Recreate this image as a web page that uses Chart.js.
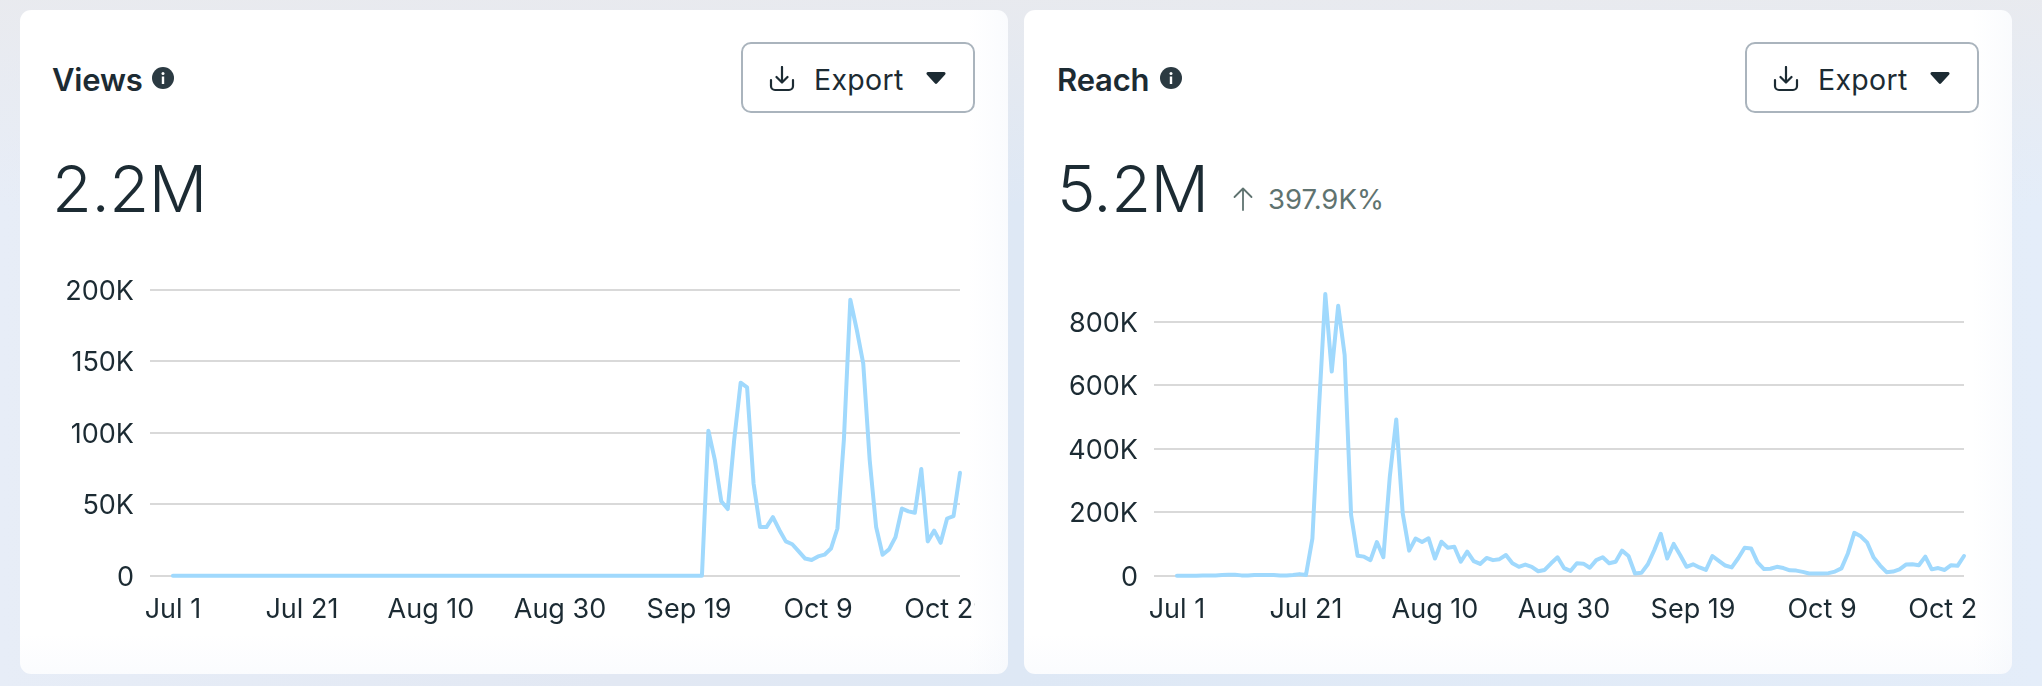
<!DOCTYPE html>
<html>
<head>
<meta charset="utf-8">
<title>Views and Reach</title>
<script src="https://cdn.jsdelivr.net/npm/chart.js@4"></script>
<style>
  html, body { margin: 0; padding: 0; width: 2042px; height: 686px; overflow: hidden; }
  body {
    position: relative;
    font-family: Inter, "Noto Sans", sans-serif;
    color: #1c2b33;
    background:
      linear-gradient(to bottom, rgba(233,234,238,.9), rgba(233,234,238,0) 30%),
      linear-gradient(to right, #e7edf7 0%, #e2e8f3 30%, #dee8f5 50%, #e4edf9 100%);
  }
  .card {
    position: absolute; top: 10px; width: 988px; height: 664px;
    border-radius: 11px;
    background:
      linear-gradient(to left, rgba(240,244,251,.35), rgba(255,255,255,0) 40px),
      linear-gradient(to top, rgba(240,244,251,.3), rgba(255,255,255,0) 40px),
      #fff;
  }
  #card1 { left: 20px; }
  #card2 { left: 1024px; }
  .abs { position: absolute; white-space: nowrap; }
  .title { font-size: 31px; font-weight: 600; line-height: 36px; top: 52px; letter-spacing: -0.2px; }
  .big { font-size: 65px; font-weight: 300; line-height: 78px; top: 140px; letter-spacing: -0.5px; }
  .delta { font-size: 27.5px; font-weight: 400; line-height: 32px; top: 173px; color: #5f7370; }
  .info { top: 57px; width: 22px; height: 22px; }
  .btn {
    position: absolute; top: 32px; width: 230px; height: 67px;
    border: 2px solid #aab4bd; border-radius: 10px; background: #fff;
  }
  .btn span { position: absolute; left: 71px; top: 18px; font-size: 28.5px; line-height: 36px; letter-spacing: .3px; }
  .btn svg { position: absolute; }
  .plot { position: absolute; top: 260px; height: 380px; }
  canvas { display: block; }
</style>
</head>
<body>
<div class="card" id="card1">
  <div class="abs title" style="left:32px">Views</div>
  <svg class="abs info" style="left:132px" viewBox="0 0 22 22"><circle cx="11" cy="11" r="11" fill="#2b3a42"/><rect x="9.8" y="9.5" width="2.4" height="7.5" fill="#fff"/><circle cx="11" cy="6.5" r="1.5" fill="#fff"/></svg>
  <div class="btn" style="left:721px">
    <svg style="left:26px;top:22px" width="26" height="26" viewBox="0 0 26 26" fill="none" stroke="#1c2b33" stroke-width="2.2" stroke-linecap="round" stroke-linejoin="round"><path d="M13 1v15M7.5 11l5.5 5.5 5.5-5.5M2 14v6a4 4 0 0 0 4 4h14a4 4 0 0 0 4-4v-6"/></svg>
    <svg style="left:183px;top:28px" width="20" height="12" viewBox="0 0 20 12"><path d="M2 0h16a1.5 1.5 0 0 1 1.2 2.4l-8 8.8a1.6 1.6 0 0 1-2.4 0l-8-8.8A1.5 1.5 0 0 1 2 0z" fill="#1c2b33"/></svg>
    <span>Export</span>
  </div>
  <div class="abs big" style="left:32px">2.2M</div>
  <div class="plot" style="left:20px;width:935px"><canvas id="viewsChart"></canvas></div>
</div>
<div class="card" id="card2">
  <div class="abs title" style="left:33px">Reach</div>
  <svg class="abs info" style="left:136px" viewBox="0 0 22 22"><circle cx="11" cy="11" r="11" fill="#2b3a42"/><rect x="9.8" y="9.5" width="2.4" height="7.5" fill="#fff"/><circle cx="11" cy="6.5" r="1.5" fill="#fff"/></svg>
  <div class="btn" style="left:721px">
    <svg style="left:26px;top:22px" width="26" height="26" viewBox="0 0 26 26" fill="none" stroke="#1c2b33" stroke-width="2.2" stroke-linecap="round" stroke-linejoin="round"><path d="M13 1v15M7.5 11l5.5 5.5 5.5-5.5M2 14v6a4 4 0 0 0 4 4h14a4 4 0 0 0 4-4v-6"/></svg>
    <svg style="left:183px;top:28px" width="20" height="12" viewBox="0 0 20 12"><path d="M2 0h16a1.5 1.5 0 0 1 1.2 2.4l-8 8.8a1.6 1.6 0 0 1-2.4 0l-8-8.8A1.5 1.5 0 0 1 2 0z" fill="#1c2b33"/></svg>
    <span>Export</span>
  </div>
  <div class="abs big" style="left:33px">5.2M</div>
  <svg class="abs" style="left:209px;top:177px" width="20" height="24" viewBox="0 0 20 24" fill="none" stroke="#5f7370" stroke-width="1.8" stroke-linecap="round" stroke-linejoin="round"><path d="M10 23V1.5M1.5 10L10 1.5 18.5 10"/></svg>
  <div class="abs delta" style="left:244px">397.9K%</div>
  <div class="plot" style="left:20px;width:933px"><canvas id="reachChart"></canvas></div>
</div>

<script>
// days on the x axis, Jul 1 - Oct 31
const months = [["Jul", 31], ["Aug", 31], ["Sep", 30], ["Oct", 31]];
const days = [];
months.forEach(([name, count]) => {
  for (let d = 1; d <= count; d++) days.push(`${name} ${d}`);
});

const tickLabels = ["Jul 1", "Jul 21", "Aug 10", "Aug 30", "Sep 19", "Oct 9", "Oct 29"];

const viewsTicks = [0, 50000, 100000, 150000, 200000];
const reachTicks = [0, 200000, 400000, 600000, 800000];

const viewsValues = [
  0, 0, 0, 0, 0, 0, 0, 0, 0, 0, 0, 0, 0, 0, 0, 0, 0, 0, 0, 0,
  0, 0, 0, 0, 0, 0, 0, 0, 0, 0, 0, 0, 0, 0, 0, 0, 0, 0, 0, 0,
  0, 0, 0, 0, 0, 0, 0, 0, 0, 0, 0, 0, 0, 0, 0, 0, 0, 0, 0, 0,
  0, 0, 0, 0, 0, 0, 0, 0, 0, 0, 0, 0, 0, 0, 0, 0, 0, 0, 0, 0,
  0, 0, 0,
  101400, 81000, 52000, 46600, 95000, 135000, 131700, 64500, 34000, 34000,
  41000, 32000, 24000, 22000, 17000, 12000, 11000, 13500, 14700, 19000,
  33000, 95000, 193000, 172000, 148500, 81000, 34000, 14700, 18400, 27000,
  47000, 45000, 44000, 74600, 24000, 31500, 23000, 40000, 41700, 72000,
];

const reachValues = [
  0, 0, 0, 0, 1000, 1000, 1000, 2000, 3000, 3000,
  1000, 1000, 2000, 2000, 2000, 2000, 1000, 1000, 2000, 5000,
  2000, 117000, 520000, 887000, 643000, 850000, 695000, 191000, 63000, 60000,
  49000, 106000, 58000, 312000, 492000, 196000, 79000, 117000, 106000, 118000,
  54000, 107000, 88000, 91000, 44000, 76000, 46000, 37000, 56000, 49000,
  52000, 65000, 39000, 28000, 35000, 28000, 14000, 18000, 39000, 58000,
  24000, 15000, 39000, 38000, 25000, 49000, 58000, 39000, 44000, 79000,
  62000, 7000, 9000, 36000, 81000, 132000, 54000, 100000, 65000, 28000,
  36000, 26000, 18000, 62000, 47000, 32000, 26000, 55000, 88000, 86000,
  42000, 21000, 22000, 28000, 24000, 17000, 16000, 12000, 7000, 7000,
  7000, 8000, 13000, 23000, 70000, 135000, 124000, 104000, 57000, 32000,
  11000, 13000, 20000, 35000, 36000, 33000, 60000, 20000, 24000, 18000,
  33000, 31000, 62000,
];

function formatK(value) {
  return value === 0 ? "0" : `${value / 1000}K`;
}

function drawChart(id, label, values, yTicks, yMax, boxW, yAxisW, chartTop, rightPad) {
  const canvas = document.getElementById(id);
  canvas.style.width = boxW + "px";
  canvas.style.height = "380px";
  canvas.width = boxW;
  canvas.height = 380;

  new Chart(canvas.getContext("2d"), {
    type: "line",
    data: {
      // linear x so the grid can start a little before the first day
      datasets: [{
        label,
        data: values.map((y, i) => ({ x: i, y })),
        borderColor: "#a0d9fd",
        borderWidth: 4,
        tension: 0,
        pointRadius: 0,
        borderJoinStyle: "round",
        borderCapStyle: "round",
        clip: false,
      }],
    },
    options: {
      responsive: false,
      animation: false,
      devicePixelRatio: 1,
      layout: { autoPadding: false, padding: { top: chartTop, right: rightPad, left: 0, bottom: 0 } },
      plugins: { legend: { display: false }, title: { display: false }, tooltip: { enabled: false } },
      scales: {
        x: {
          type: "linear",
          min: -3.55,
          max: days.length - 1,
          offset: false,
          grid: { display: false },
          border: { display: false },
          afterFit: (scale) => {
            scale.height = 74.3;
            scale.paddingLeft = 0;
            scale.paddingRight = 0;
          },
          afterBuildTicks: (scale) => {
            scale.ticks = tickLabels.map((name) => ({ value: days.indexOf(name) }));
          },
          ticks: {
            autoSkip: false,
            maxRotation: 0,
            minRotation: 0,
            padding: 10,
            color: "#1c2b33",
            font: { family: "Inter", size: 27 },
            callback: (val) => days[val],
          },
        },
        y: {
          min: 0,
          max: yMax,
          afterFit: (scale) => {
            scale.width = yAxisW;
            scale.paddingTop = 0;
            scale.paddingBottom = 0;
          },
          afterBuildTicks: (scale) => { scale.ticks = yTicks.map((value) => ({ value })); },
          grid: { color: "#d9d9d9", lineWidth: 2, drawTicks: false },
          border: { display: false },
          ticks: {
            padding: 16,
            labelOffset: 2,
            color: "#1c2b33",
            font: { family: "Inter", size: 27 },
            callback: formatK,
          },
        },
      },
    },
  });
}

drawChart("viewsChart", "Views", viewsValues, viewsTicks, 200000, 935, 110, 19.7, 15);
drawChart("reachChart", "Reach", reachValues, reachTicks, 950000, 933, 110, 4, 13);
</script>
</body>
</html>
